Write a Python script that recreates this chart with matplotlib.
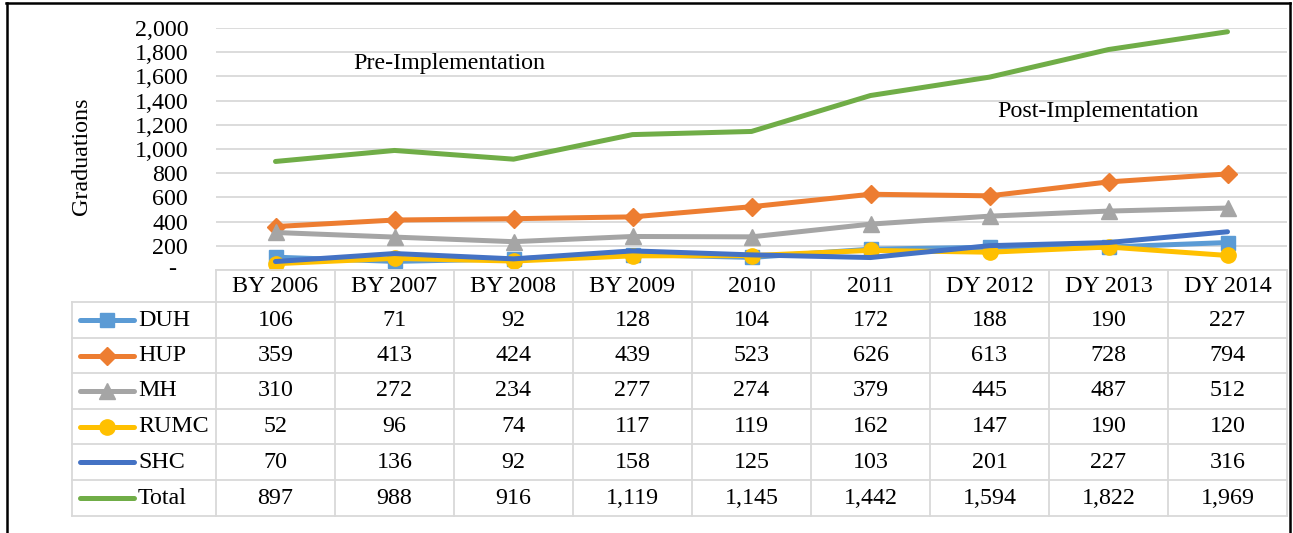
import numpy as np
import matplotlib.pyplot as plt
from matplotlib.lines import Line2D

years = ['BY 2006', 'BY 2007', 'BY 2008', 'BY 2009', '2010', '2011', 'DY 2012', 'DY 2013', 'DY 2014']
duh = [106, 71, 92, 128, 104, 172, 188, 190, 227]
hup = [359, 413, 424, 439, 523, 626, 613, 728, 794]
mh = [310, 272, 234, 277, 274, 379, 445, 487, 512]
rumc = [52, 96, 74, 117, 119, 162, 147, 190, 120]
shc = [70, 136, 92, 158, 125, 103, 201, 227, 316]
total = [897, 988, 916, 1119, 1145, 1442, 1594, 1822, 1969]

names = ['DUH', 'HUP', 'MH', 'RUMC', 'SHC', 'Total']
series = [duh, hup, mh, rumc, shc, total]
colors = ['#5B9BD5', '#ED7D31', '#A5A5A5', '#FFC000', '#4472C4', '#70AD47']
markers = ['s', 'D', '^', 'o', None, None]
msizes = [10, 9, 11, 11, 0, 0]

plt.rcParams['font.family'] = 'Liberation Serif'
FS = 17.3
W, H = 1293, 533

fig = plt.figure(figsize=(W / 100, H / 100), dpi=100)

def fx(x):
    return x / W

def fy(y):
    return 1 - y / H

# plot area in pixels
x0, x1 = 216, 1287
y0, y1 = 28, 270
ax = fig.add_axes([fx(x0), fy(y1), fx(x1) - fx(x0), fy(y0) - fy(y1)])

xs = np.arange(len(years))
for vals, c, m, ms in zip(series, colors, markers, msizes):
    ax.plot(xs, vals, color=c, lw=3.6, marker=m, markersize=ms,
            solid_capstyle='round', solid_joinstyle='round', zorder=3)

ax.set_xlim(-0.5, len(years) - 0.5)
ax.set_ylim(0, 2000)
ticks = np.arange(0, 2001, 200)
ax.set_yticks(ticks)
ax.set_yticklabels(['' if t == 0 else f'{t:,}' for t in ticks], fontsize=FS)
ax.set_xticks([])
ax.tick_params(axis='y', length=0, pad=20)
ax.yaxis.grid(True, color='#d9d9d9', lw=1.3)
ax.set_axisbelow(True)
for s in ax.spines.values():
    s.set_visible(False)

fig.text(fx(172), fy(270), '-', fontsize=FS, ha='center', va='center')
fig.text(fx(82), fy(156), 'Graduations', fontsize=FS, rotation=90, ha='center', va='center')
ax.text(fx(353), fy(63), 'Pre-Implementation', fontsize=FS, ha='left', va='center',
        transform=fig.transFigure)
ax.text(fx(997), fy(112), 'Post-Implementation', fontsize=FS, ha='left', va='center',
        transform=fig.transFigure)

# data table under the chart
grid_c = '#d9d9d9'
col_w = (x1 - x0) / len(years)
row_top = [270, 302, 338, 373, 409, 444, 480, 516]

def hline(y, xa, xb, c=grid_c, lw=1.3):
    fig.add_artist(Line2D([fx(xa), fx(xb)], [fy(y), fy(y)], color=c, lw=lw))

def vline(x, ya, yb, c=grid_c, lw=1.3):
    fig.add_artist(Line2D([fx(x), fx(x)], [fy(ya), fy(yb)], color=c, lw=lw))

hline(row_top[0], x0, x1)
for y in row_top[1:]:
    hline(y, 72, x1)
for k in range(len(years) + 1):
    vline(x0 + k * col_w, row_top[0], row_top[-1])
vline(72, row_top[1], row_top[-1])

for i, yr in enumerate(years):
    fig.text(fx(x0 + (i + 0.5) * col_w), fy((row_top[0] + row_top[1]) / 2), yr,
             fontsize=FS, ha='center', va='center')

for r, (name, vals, c, m, ms) in enumerate(zip(names, series, colors, markers, msizes)):
    yc = (row_top[r + 1] + row_top[r + 2]) / 2
    fig.add_artist(Line2D([fx(80), fx(134)], [fy(yc), fy(yc)], color=c, lw=3.6,
                          solid_capstyle='round'))
    if m:
        fig.add_artist(Line2D([fx(107)], [fy(yc)], color=c, marker=m, markersize=ms, lw=0))
    fig.text(fx(138), fy(yc), name, fontsize=FS, ha='left', va='center')
    for i, v in enumerate(vals):
        fig.text(fx(x0 + (i + 0.5) * col_w), fy(yc), f'{v:,}', fontsize=FS,
                 ha='center', va='center')

# outer frame (chart box)
hline(3, 6, 1290, c='black', lw=1.8)
vline(7, 3, 533, c='black', lw=1.8)
vline(1290, 3, 533, c='black', lw=1.8)

fig.savefig('out.png', dpi=100)
